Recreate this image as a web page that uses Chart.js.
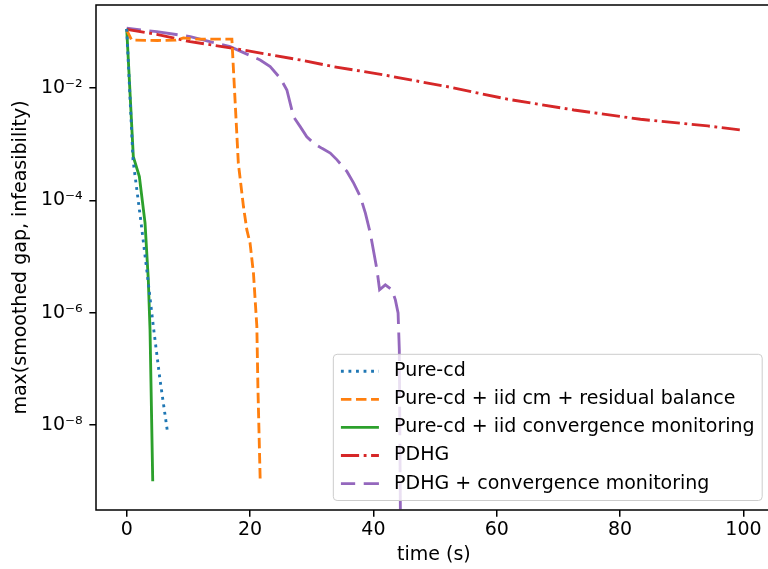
<!DOCTYPE html>
<html>
<head>
<meta charset="utf-8">
<title>max(smoothed gap, infeasibility) vs time</title>
<script src="https://cdn.jsdelivr.net/npm/chart.js"></script>
<style>
  html, body { margin: 0; padding: 0; background: #fff; }
  #box { width: 768px; height: 569px; overflow: hidden; }
</style>
</head>
<body>
<div id="box"><canvas id="grafico" width="774" height="569"></canvas></div>
<script>
// values (time in s, gap on a log scale)
var seriesNames = [
  "Pure-cd",
  "Pure-cd + iid cm + residual balance",
  "Pure-cd + iid convergence monitoring",
  "PDHG",
  "PDHG + convergence monitoring"
];

var timePure = [0, 1.02, 2.27, 3.25, 4.32, 5.4, 6.6];
var gapPure = [0.114, 5.3e-4, 4.5e-5, 5.8e-6, 5.7e-7, 6.4e-8, 7.7e-9];

var timeResidual = [0, 0.8, 5, 8, 9.2, 11, 14, 17.05, 18.1, 18.93, 19.48, 20.0, 20.55, 21.1, 21.27, 21.64];
var gapResidual = [0.109, 0.072, 0.071, 0.072, 0.079, 0.075, 0.075, 0.075, 4.6e-4, 7.8e-5, 3.0e-5, 1.74e-5, 5.1e-6, 5.7e-7, 4.9e-8, 1.07e-9];

var timeIid = [0, 1.07, 2.05, 2.97, 3.5, 3.78, 4.22];
var gapIid = [0.114, 6.05e-4, 2.67e-4, 4.0e-5, 3.9e-6, 5e-7, 1.0e-9];

var timePdhg = [0, 4.87, 10.28, 17.3, 28.1, 33.5, 41.66, 52.5, 61.7, 72.5, 83.3, 94.2, 99.56];
var gapPdhg = [0.112, 0.0914, 0.0676, 0.0515, 0.0319, 0.0243, 0.0173, 0.0104, 6.4e-3, 4.1e-3, 2.8e-3, 2.13e-3, 1.81e-3];

var timePdhgCm = [0, 4.87, 10.3, 16.77, 21.64, 23.26, 24.9, 25.97, 27.05, 28.13, 29.2, 30.3, 31.66, 33.0, 34.1,
  35.7, 36.8, 37.87, 38.7, 39.5, 40.58, 41.0, 41.93, 43.0, 43.56, 44.0, 44.2, 44.4];
var gapPdhgCm = [0.117, 0.102, 0.083, 0.055, 0.0319, 0.0243, 0.0151, 9.3e-3, 3.1e-3, 2.07e-3, 1.37e-3, 1.05e-3, 8.5e-4, 7.0e-4, 5.3e-4,
  3.3e-4, 2.04e-4, 1.18e-4, 5.95e-5, 2.6e-5, 5.8e-6, 2.57e-6, 3.15e-6, 2.57e-6, 1.7e-6, 9.9e-7, 2.2e-7, 1e-10];

var xTicks = [0, 20, 40, 60, 80, 100];
var yTicks = [1e-8, 1e-6, 1e-4, 1e-2];

var FONT = 19;
var LW = 2.85;

// x/y pairs for chart.js
function punti(tempi, valori) {
  return tempi.map(function (t, i) {
    return { x: t, y: valori[i] };
  });
}

// 10^-2 -> "10⁻²"
function potenza(v) {
  var sup = { '-': '\u207B', '0': '\u2070', '1': '\u00B9', '2': '\u00B2', '3': '\u00B3', '4': '\u2074',
    '5': '\u2075', '6': '\u2076', '7': '\u2077', '8': '\u2078', '9': '\u2079' };
  var e = String(Math.round(Math.log10(v)));
  return '10' + e.split('').map(function (c) { return sup[c]; }).join('');
}

// frame all round the plot area, like matplotlib spines
var bordiAssi = {
  id: 'bordiAssi',
  afterDatasetsDraw: function (chart) {
    var a = chart.chartArea;
    var ctx = chart.ctx;
    ctx.save();
    ctx.strokeStyle = '#000';
    ctx.lineWidth = 1.5;
    ctx.strokeRect(a.left, a.top, a.right - a.left, a.bottom - a.top);
    ctx.restore();
  }
};

// legend in the lower right corner, inside the axes
var legendaInterna = {
  id: 'legendaInterna',
  afterDraw: function (chart) {
    var ctx = chart.ctx;
    var a = chart.chartArea;
    var sets = chart.data.datasets;
    ctx.save();
    ctx.font = FONT + 'px "DejaVu Sans"';
    var maxW = 0;
    sets.forEach(function (d) { maxW = Math.max(maxW, ctx.measureText(d.label).width); });
    var pad = 0.4 * FONT, handle = 2 * FONT, textPad = 0.8 * FONT, spacing = 0.5 * FONT, rowH = 18.6;
    var w = pad + handle + textPad + maxW + pad;
    var h = 2 * pad + sets.length * rowH + (sets.length - 1) * spacing;
    var right = a.right - 0.5 * FONT;
    var bottom = a.bottom - 0.5 * FONT;
    var left = right - w, top = bottom - h;

    ctx.beginPath();
    ctx.roundRect(left, top, w, h, 0.2 * FONT);
    ctx.fillStyle = 'rgba(255,255,255,0.8)';
    ctx.fill();
    ctx.strokeStyle = '#cccccc';
    ctx.lineWidth = 1;
    ctx.stroke();

    sets.forEach(function (d, i) {
      var y = top + pad + rowH / 2 + i * (rowH + spacing);
      ctx.beginPath();
      ctx.setLineDash(d.borderDash || []);
      ctx.lineDashOffset = d.borderDashOffset || 0;
      ctx.strokeStyle = d.borderColor;
      ctx.lineWidth = d.borderWidth;
      ctx.moveTo(left + pad, y);
      ctx.lineTo(left + pad + handle, y);
      ctx.stroke();
      ctx.setLineDash([]);
      ctx.fillStyle = '#000';
      ctx.textBaseline = 'middle';
      ctx.textAlign = 'left';
      ctx.fillText(d.label, left + pad + handle + textPad, y);
    });
    ctx.restore();
  }
};

Chart.defaults.font.family = '"DejaVu Sans"';
Chart.defaults.font.size = FONT;
Chart.defaults.color = '#000';

var grafico = new Chart(document.getElementById('grafico'), {
  type: 'line',
  data: {
    datasets: [
      { label: seriesNames[0], data: punti(timePure, gapPure), borderColor: '#1f77b4', borderWidth: LW, borderDash: [2.85, 4.7] },
      { label: seriesNames[1], data: punti(timeResidual, gapResidual), borderColor: '#ff7f0e', borderWidth: LW, borderDash: [10.5, 4.56] },
      { label: seriesNames[2], data: punti(timeIid, gapIid), borderColor: '#2ca02c', borderWidth: LW },
      { label: seriesNames[3], data: punti(timePdhg, gapPdhg), borderColor: '#d62728', borderWidth: LW, borderDash: [18.2, 4.56, 2.85, 4.56] },
      { label: seriesNames[4], data: punti(timePdhgCm, gapPdhgCm), borderColor: '#9467bd', borderWidth: LW, borderDash: [28.5, 8.55], borderDashOffset: 14.25 }
    ]
  },
  options: {
    responsive: false,
    animation: false,
    devicePixelRatio: 1,
    layout: { padding: { top: 5, right: 2.3, left: 0, bottom: 0 } },
    elements: {
      line: { tension: 0, fill: false },
      point: { radius: 0 }
    },
    datasets: { line: { clip: 0 } },
    plugins: {
      legend: { display: false },
      tooltip: { enabled: false }
    },
    scales: {
      x: {
        type: 'linear',
        min: -4.98,
        max: 104.58,
        border: { display: false },
        grid: { drawOnChartArea: false, drawTicks: true, tickLength: 6.65, color: '#000', lineWidth: 1.5 },
        ticks: { padding: 2.5, maxRotation: 0 },
        title: { display: true, text: 'time (s)', padding: { top: 0, bottom: 3 } },
        afterBuildTicks: function (scale) {
          scale.ticks = xTicks.map(function (v) { return { value: v }; });
        },
        afterFit: function (scale) {
          scale.height = 59;
          scale.paddingLeft = 0;
          scale.paddingRight = 0;
        }
      },
      y: {
        type: 'logarithmic',
        min: Math.pow(10, -9.513),
        max: Math.pow(10, -0.517),
        border: { display: false },
        grid: { drawOnChartArea: false, drawTicks: true, tickLength: 6.65, color: '#000', lineWidth: 1.5 },
        ticks: {
          padding: 6.65,
          autoSkip: false,
          callback: function (v) { return potenza(v); }
        },
        title: { display: true, text: 'max(smoothed gap, infeasibility)', padding: { top: 9.5, bottom: 0 } },
        afterBuildTicks: function (scale) {
          scale.ticks = yTicks.map(function (v) { return { value: v, major: true }; });
        },
        afterFit: function (scale) {
          scale.width = 96;
          scale.paddingTop = 0;
          scale.paddingBottom = 0;
        }
      }
    }
  },
  plugins: [bordiAssi, legendaInterna]
});
</script>
</body>
</html>
